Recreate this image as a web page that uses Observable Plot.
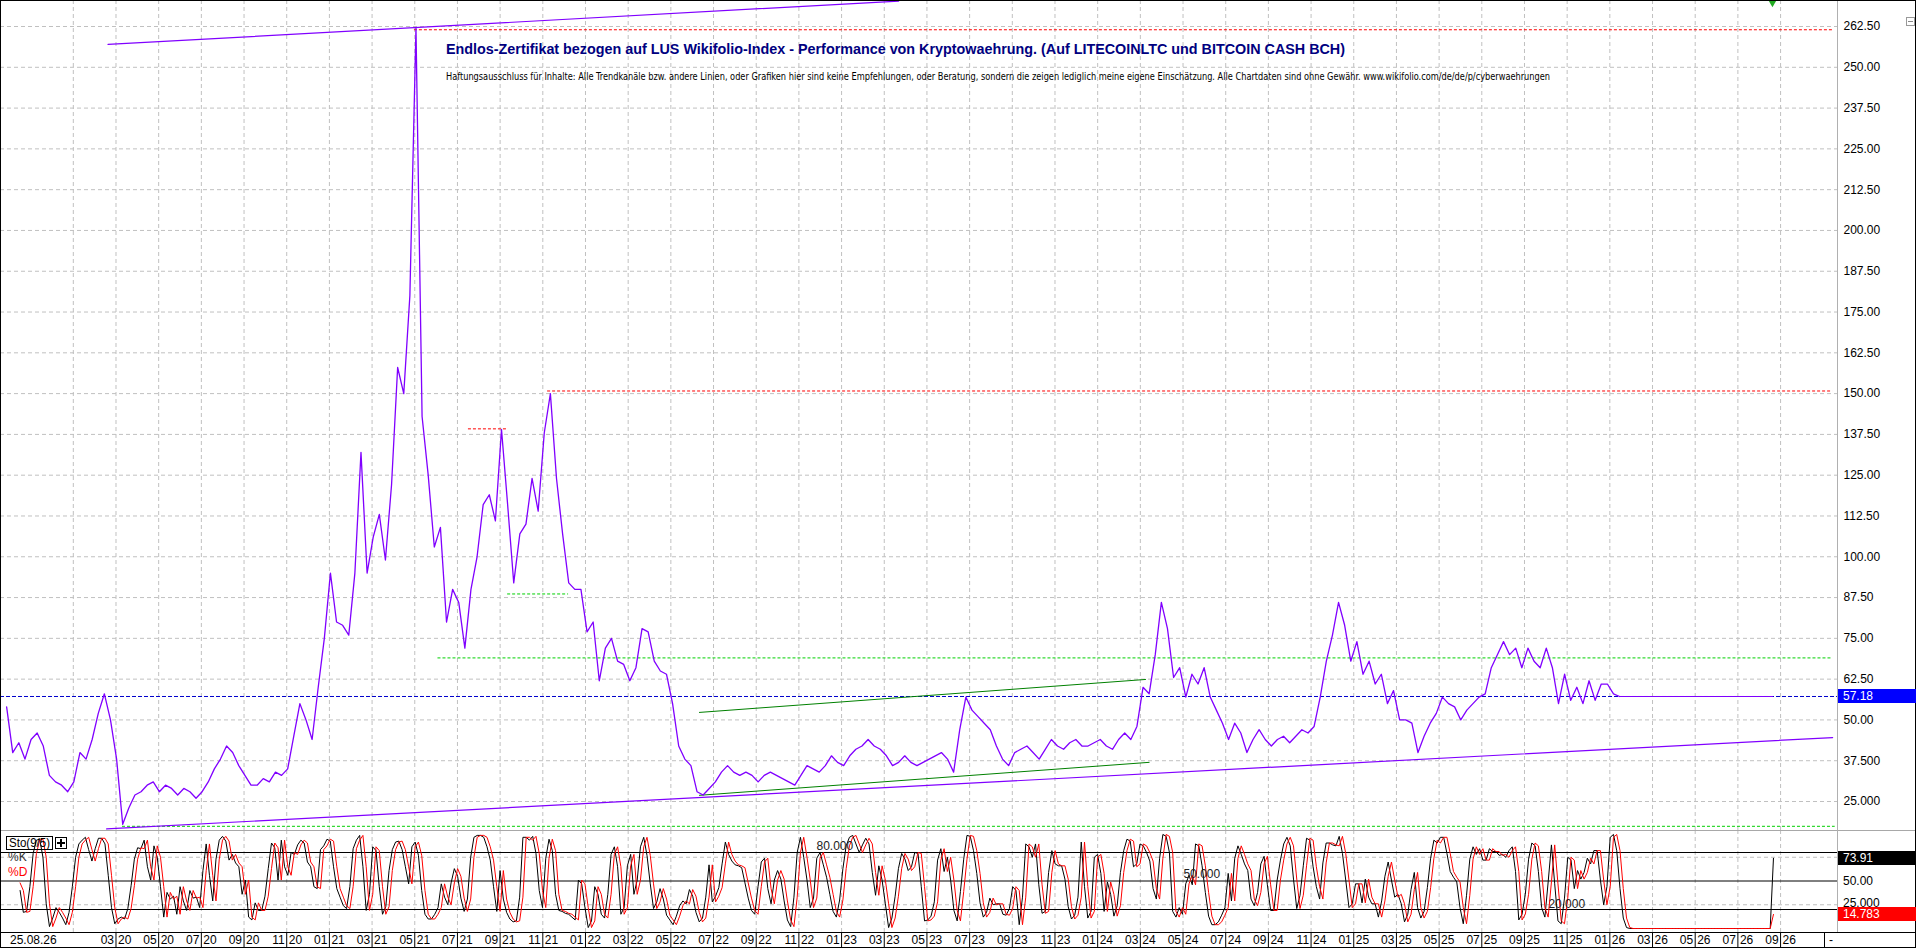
<!DOCTYPE html>
<html>
<head>
<meta charset="utf-8">
<script src="https://cdn.jsdelivr.net/npm/d3@7"></script>
<script src="https://cdn.jsdelivr.net/npm/@observablehq/plot@0.6"></script>
<style>
  html, body { margin:0; padding:0; background:#fff; overflow:hidden; }
  #wrap { position:relative; width:1916px; height:948px; overflow:hidden; background:#fff; font-family:"Liberation Sans", Arial, sans-serif; }
  #wrap svg { display:block; max-width:none; }
  .ov { position:absolute; box-sizing:border-box; white-space:nowrap; }
</style>
</head>
<body>
<div id="wrap"></div>
<script>
// ---------------- DATA ----------------
const xTickLabels = ["01 20","03 20","05 20","07 20","09 20","11 20",
  "01 21","03 21","05 21","07 21","09 21","11 21",
  "01 22","03 22","05 22","07 22","09 22","11 22",
  "01 23","03 23","05 23","07 23","09 23","11 23",
  "01 24","03 24","05 24","07 24","09 24","11 24",
  "01 25","03 25","05 25","07 25","09 25","11 25",
  "01 26","03 26","05 26","07 26","09 26"];

const yTicks = [262.5,250,237.5,225,212.5,200,187.5,175,162.5,150,137.5,125,112.5,100,87.5,75,62.5,50,37.5,25];
const yTickLabels = ["262.50","250.00","237.50","225.00","212.50","200.00","187.50","175.00","162.50","150.00",
  "137.50","125.00","112.50","100.00","87.50","75.00","62.50","50.00","37.500","25.000"];

// price (decimal years, regular sampling)
const priceStart = 2019.7396, priceStep = 0.023858;
const priceValues = [
54,40,43,38,44,46,42,33,31,30,28,31,40,38,44,52,58,50,38,18,
23,27,28,30,31,28,30,29,27,29,28,26,28,31,35,38,42,40,36,33,
30,30,32,31,34,33,35,45,55,50,44,60,75,95,80,79,76,95,132,95,
106,113,99,122,158,150,180,262,143,125,103,109,80,90,86,72,90,100,116,119,
111,139,116,92,107,110,124,114,138,150,124,107,92,90,90,77,80,62,72,75,
68,67,62,66,78,77,68,65,64,55,42,38,36,28,27,29,31,34,36,34,
33,34,33,31,33,34,33,32,31,30,33,36,35,34,36,39,37,36,39,41,
42,44,42,41,39,36,37,39,37,36,37,38,39,40,38,34,47,57,53,51,
49,47,42,38,36,40,41,42,40,38,41,44,42,41,43,44,42,42,43,44,
42,41,44,46,44,48,60,58,70,86,78,63,66,57,64,61,66,57,53,49,
44,49,46,40,44,47,44,42,44,45,43,45,47,46,48,57,68,76,86,79,
68,74,64,68,61,64,55,59,50,50,49,40,45,49,52,57,55,54,50,53,
55,57,58,66,70,74,70,72,66,72,68,66,72,66,55,64,56,60,55,62,
56,61,61,58,57.18];
const lastPrice = 57.18;
const priceTailEnd = 2026.635;

// stochastic Sto(9/5)
const stochStart = 2019.7922, stochStep = 0.01275;
const stochK = [
40,17,18,44,79,93,94,75,26,2,11,22,17,11,4,17,44,75,89,93,96,83,71,84,95,95,89,56,22,5,
10,12,10,21,45,73,85,84,93,65,51,87,75,44,12,38,31,34,15,44,29,19,40,32,33,22,61,89,56,29,
73,93,97,92,72,78,69,65,36,51,12,9,27,19,19,34,63,90,85,51,93,65,56,80,78,88,93,90,70,65,
44,42,83,87,94,92,65,42,33,24,21,44,84,93,98,65,19,36,86,82,44,15,23,61,83,91,92,83,65,47,
86,91,77,40,15,10,10,15,22,47,33,25,48,63,55,32,18,31,75,96,98,98,96,86,72,44,18,61,31,17,
10,7,8,33,96,96,93,97,79,40,22,74,94,82,36,19,18,16,15,12,9,51,47,22,1,8,44,36,15,11,
36,78,86,65,15,22,66,78,36,51,
86,96,77,47,21,28,42,31,14,9,4,13,24,29,26,41,34,17,7,11,33,67,28,34,43,68,91,78,71,67,
66,64,48,32,19,15,44,70,74,42,26,51,61,52,29,9,2,33,80,96,75,51,22,32,74,80,67,54,36,18,
12,30,63,87,96,98,89,80,88,95,89,59,35,66,51,26,1,11,34,63,79,73,61,65,80,79,44,8,9,13,
28,72,84,60,75,51,19,8,39,73,98,97,82,58,27,12,17,32,25,26,26,15,14,21,44,40,4,33,89,86,
75,89,46,16,18,59,82,68,66,66,52,23,10,14,33,91,44,11,18,75,78,58,18,49,36,13,24,59,82,94,
92,65,68,89,87,80,71,42,31,74,99,97,80,18,12,22,15,47,56,46,89,87,66,38,13,4,4,7,14,22,
58,29,74,87,78,68,61,31,24,38,68,76,46,19,19,51,72,
89,96,87,52,21,35,66,95,93,65,44,31,69,90,90,88,87,97,79,51,22,26,47,47,27,52,33,26,26,12,
29,55,70,51,33,36,26,7,15,41,59,22,11,18,43,74,93,90,96,96,79,60,54,49,22,5,35,73,86,78,
84,72,72,84,81,81,77,78,75,82,86,60,9,15,36,73,90,87,60,22,12,49,88,47,8,5,32,75,72,42,
61,52,59,74,68,82,82,51,25,44,96,99,82,42,11,1,0,
0,0,0,0,0,0,0,0,0,0,0,0,0,0,0,0,0,0,0,0,0,0,0,0,0,0,0,0,0,0,0,0,0,0,0,0,0,0,0,0,0,0,0,
73.91];
const stochD = [48,
40,17,18,44,79,93,94,75,26,2,11,22,17,11,4,17,44,75,89,93,96,83,71,84,95,95,89,56,22,5,
10,12,10,21,45,73,85,84,93,65,51,87,75,44,12,38,31,34,15,44,29,19,40,32,33,22,61,89,56,29,
73,93,97,92,72,78,69,65,36,51,12,9,27,19,19,34,63,90,85,51,93,65,56,80,78,88,93,90,70,65,
44,42,83,87,94,92,65,42,33,24,21,44,84,93,98,65,19,36,86,82,44,15,23,61,83,91,92,83,65,47,
86,91,77,40,15,10,10,15,22,47,33,25,48,63,55,32,18,31,75,96,98,98,96,86,72,44,18,61,31,17,
10,7,8,33,96,96,93,97,79,40,22,74,94,82,36,19,18,16,15,12,9,51,47,22,1,8,44,36,15,11,
36,78,86,65,15,22,66,78,36,51,
86,96,77,47,21,28,42,31,14,9,4,13,24,29,26,41,34,17,7,11,33,67,28,34,43,68,91,78,71,67,
66,64,48,32,19,15,44,70,74,42,26,51,61,52,29,9,2,33,80,96,75,51,22,32,74,80,67,54,36,18,
12,30,63,87,96,98,89,80,88,95,89,59,35,66,51,26,1,11,34,63,79,73,61,65,80,79,44,8,9,13,
28,72,84,60,75,51,19,8,39,73,98,97,82,58,27,12,17,32,25,26,26,15,14,21,44,40,4,33,89,86,
75,89,46,16,18,59,82,68,66,66,52,23,10,14,33,91,44,11,18,75,78,58,18,49,36,13,24,59,82,94,
92,65,68,89,87,80,71,42,31,74,99,97,80,18,12,22,15,47,56,46,89,87,66,38,13,4,4,7,14,22,
58,29,74,87,78,68,61,31,24,38,68,76,46,19,19,51,72,
89,96,87,52,21,35,66,95,93,65,44,31,69,90,90,88,87,97,79,51,22,26,47,47,27,52,33,26,26,12,
29,55,70,51,33,36,26,7,15,41,59,22,11,18,43,74,93,90,96,96,79,60,54,49,22,5,35,73,86,78,
84,72,72,84,81,81,77,78,75,82,86,60,9,15,36,73,90,87,60,22,12,49,88,47,8,5,32,75,72,42,
61,52,59,74,68,82,82,51,25,44,96,99,82,42,11,1,0,
0,0,0,0,0,0,0,0,0,0,0,0,0,0,0,0,0,0,0,0,0,0,0,0,0,0,0,0,0,0,0,0,0,0,0,0,0,0,0,0,0,0,
14.783];
const lastK = 73.91, lastD = 14.783;

// drawn trend lines [decimal year, value]
const upperTrend = [[2020.1356, 257.0], [2023.2229, 270.3]];
const lowerTrend = [[2020.1300, 16.6], [2026.8700, 44.6]];
const greenUpper = [[2022.445, 52.3], [2024.187, 62.4]];
const greenLower = [[2022.445, 26.9], [2024.201, 37.0]];
// horizontal levels
const redLevels = [
  {v:261.5, from:2021.332, to:2026.870},
  {v:150.8, from:2021.852, to:2026.870},
  {v:139.2, from:2021.543, to:2021.696}];
const greenLevels = [
  {v:69.0, from:2021.424, to:2026.870},
  {v:88.6, from:2021.696, to:2021.934},
  {v:17.4, from:2020.192, to:2026.880}];
const stochGridLevels = [25, 75];
const stochLevels = [20, 50, 80];
const stochNotes = [
  {t:2022.902, v:86.3, label:"80.000"},
  {t:2024.335, v:56.8, label:"50.000"},
  {t:2025.760, v:25.8, label:"20.000"}];
const lastDate = 2026.635;

const titleText = "Endlos-Zertifikat bezogen auf LUS Wikifolio-Index - Performance von Kryptowaehrung. (Auf LITECOINLTC und BITCOIN CASH BCH)";
const noteText = "Haftungsausschluss für Inhalte: Alle Trendkanäle bzw. andere Linien, oder Grafiken hier sind keine Empfehlungen, oder Beratung, sondern die zeigen lediglich meine eigene Einschätzung. Alle Chartdaten sind ohne Gewähr.  www.wikifolio.com/de/de/p/cyberwaehrungen";
const dateLabel = "25.08.26";

// ---------------- BUILD ----------------
const X0 = 2019.7157, X1 = 2026.889;
const tickT = xTickLabels.map(s => { const [m, y] = s.split(" ").map(Number); return 2000 + y + (m - 1) / 12; });
const labelOf = new Map(tickT.map((t, i) => [t, xTickLabels[i]]));
const labelTicks = tickT.slice(1);

const priceRows = priceValues.map((v, i) => ({t: priceStart + i * priceStep, v}));
const tailRows = [{t: priceRows[priceRows.length - 1].t, v: lastPrice}, {t: priceTailEnd, v: lastPrice}];
const stochRows = stochK.map((k, i) => ({t: stochStart + i * stochStep, k, d: stochD[i]}));

const grid = {stroke: "#c0c0c0", strokeDasharray: "4,3", strokeWidth: 1};
const FONT = "Liberation Sans, Arial, sans-serif";
const P = d => d[0], V = d => d[1];

const plotP = Plot.plot({
  width: 1916, height: 830, marginLeft: 0, marginRight: 79, marginTop: 0, marginBottom: 0,
  style: {fontFamily: FONT, background: "#fff", color: "#000"},
  x: {domain: [X0, X1], axis: null, label: null},
  y: {domain: [16.113, 270.468], label: null},
  marks: [
    Plot.ruleY(yTicks, grid),
    Plot.ruleX(tickT, grid),
    Plot.axisY({anchor: "right", label: null, ticks: yTicks, tickSize: 0, tickPadding: 6, fontSize: 12, fill: "#000",
      tickFormat: d => yTickLabels[yTicks.indexOf(d)]}),
    Plot.ruleY(greenLevels, {y: "v", x1: "from", x2: "to", stroke: "#00d000", strokeDasharray: "3,2"}),
    Plot.ruleY(redLevels, {y: "v", x1: "from", x2: "to", stroke: "#ff0000", strokeDasharray: "3,2"}),
    Plot.ruleY([lastPrice], {stroke: "#0000cc", strokeDasharray: "4,2"}),
    Plot.line(greenUpper, {x: P, y: V, stroke: "#008000", strokeWidth: 1}),
    Plot.line(greenLower, {x: P, y: V, stroke: "#008000", strokeWidth: 1}),
    Plot.line(upperTrend, {x: P, y: V, stroke: "#8000ff", strokeWidth: 1.2}),
    Plot.line(lowerTrend, {x: P, y: V, stroke: "#8000ff", strokeWidth: 1.2}),
    Plot.line(tailRows, {x: "t", y: "v", stroke: "#8000ff", strokeWidth: 1.2}),
    Plot.line(priceRows, {x: "t", y: "v", stroke: "#8000ff", strokeWidth: 1.3}),
    Plot.dot([lastDate], {x: d => d, frameAnchor: "top", dy: 2, symbol: "triangle", r: 3, fill: "#22aa22", rotate: 180})
  ]
});

const plotS = Plot.plot({
  width: 1916, height: 118, marginLeft: 0, marginRight: 79, marginTop: 0, marginBottom: 16,
  style: {fontFamily: FONT, background: "#fff", color: "#000"},
  x: {domain: [X0, X1], label: null},
  y: {domain: [-4.21, 103.16], axis: null, label: null},
  marks: [
    Plot.ruleY(stochGridLevels, grid),
    Plot.ruleX(tickT, grid),
    Plot.ruleY(stochLevels, {stroke: "#000", strokeWidth: 1}),
    Plot.line(stochRows, {x: "t", y: "k", stroke: "#000", strokeWidth: 1}),
    Plot.line(stochRows, {x: "t", y: "d", stroke: "#ff0000", strokeWidth: 1}),
    Plot.text(stochNotes, {x: "t", y: "v", text: "label", textAnchor: "start", fill: "#222", fontSize: 12}),
    Plot.axisX({ticks: labelTicks, label: null, tickSize: 16, tickFormat: () => "", stroke: "#000"}),
    Plot.axisX({ticks: labelTicks, label: null, tickSize: 0, tickPadding: 3, textAnchor: "end", dx: -2, fontSize: 12, fill: "#000",
      tickFormat: d => labelOf.get(d).split(" ")[0]}),
    Plot.axisX({ticks: labelTicks, label: null, tickSize: 0, tickPadding: 3, textAnchor: "start", dx: 2, fontSize: 12, fill: "#000",
      tickFormat: d => labelOf.get(d).split(" ")[1]})
  ]
});

const wrap = document.getElementById("wrap");
wrap.append(plotP, plotS);

function ov(css, text) {
  const d = document.createElement("div");
  d.className = "ov";
  d.style.cssText += css;
  if (text != null) d.textContent = text;
  wrap.appendChild(d);
  return d;
}
function fit(el, w) { const r = el.getBoundingClientRect().width; if (r > 0) el.style.transform = `scaleX(${w / r})`; }
const yP = v => plotP.scale("y").apply(v);
const yS = v => 830 + plotS.scale("y").apply(v);

// chrome lines
ov("left:0;top:830px;width:1916px;height:1px;background:#a8a8a8;");
ov("left:0;top:932px;width:1916px;height:1px;background:#000;");
ov("left:1837px;top:0;width:1px;height:932px;background:#b0b0b0;");
ov("left:1824px;top:932px;width:1px;height:16px;background:#000;");
ov("left:1829px;top:933px;font-size:12px;line-height:14px;color:#000;", "-");
ov("left:0;top:0;width:1916px;height:948px;border:1px solid #000;pointer-events:none;");

// value boxes on the right scale
function valBox(y, bg, fg, text) {
  ov(`left:1838px;top:${(y - 7).toFixed(1)}px;width:78px;height:14px;background:${bg};color:${fg};font-size:12px;line-height:14px;padding-left:5px;`, text);
}
valBox(yP(lastPrice), "#0000ff", "#fff", "57.18");
ov(`left:1843px;top:${(yS(50) - 7).toFixed(1)}px;font-size:12px;line-height:14px;color:#000;`, "50.00");
ov(`left:1843px;top:${(yS(25) - 8).toFixed(1)}px;font-size:12px;line-height:14px;color:#000;`, "25.000");
valBox(yS(lastK), "#000", "#fff", "73.91");
valBox(yS(lastD), "#ff0000", "#fff", "14.783");

// top-right minus box
ov("left:1906px;top:17px;width:9px;height:9px;border:1px solid #999;");
ov("left:1908px;top:21px;width:5px;height:1px;background:#888;");

// stochastic legend
ov("left:6px;top:836px;width:47px;height:14px;border:1px solid #000;");
const stoTxt = ov("left:9px;top:837px;font-size:12px;line-height:12px;color:#000;transform-origin:0 0;", "Sto(9/5)");
fit(stoTxt, 41);
ov("left:55px;top:837px;width:12px;height:12px;border:1px solid #000;");
ov("left:57px;top:842px;width:8px;height:2px;background:#000;");
ov("left:60px;top:839px;width:2px;height:8px;background:#000;");
ov("left:8px;top:851px;font-size:12px;line-height:12px;color:#333;", "%K");
ov("left:8px;top:866px;font-size:12px;line-height:12px;color:#ff0000;", "%D");

// first date label in the axis row
ov("left:1px;top:933px;width:70px;height:14px;background:#fff;font-size:12px;line-height:14px;padding-left:9px;color:#000;", dateLabel);

// title + disclaimer, fitted to the reference widths
const title = ov("left:446px;top:42px;font-size:14px;line-height:14px;font-weight:bold;color:#000080;transform-origin:0 0;", titleText);
const note = ov("left:446px;top:71px;font-size:11px;line-height:12px;color:#000;transform-origin:0 0;font-family:'Liberation Sans Narrow','DejaVu Sans Condensed','Liberation Sans',sans-serif;", noteText);
fit(title, 899);
fit(note, 1104);
</script>
</body>
</html>
